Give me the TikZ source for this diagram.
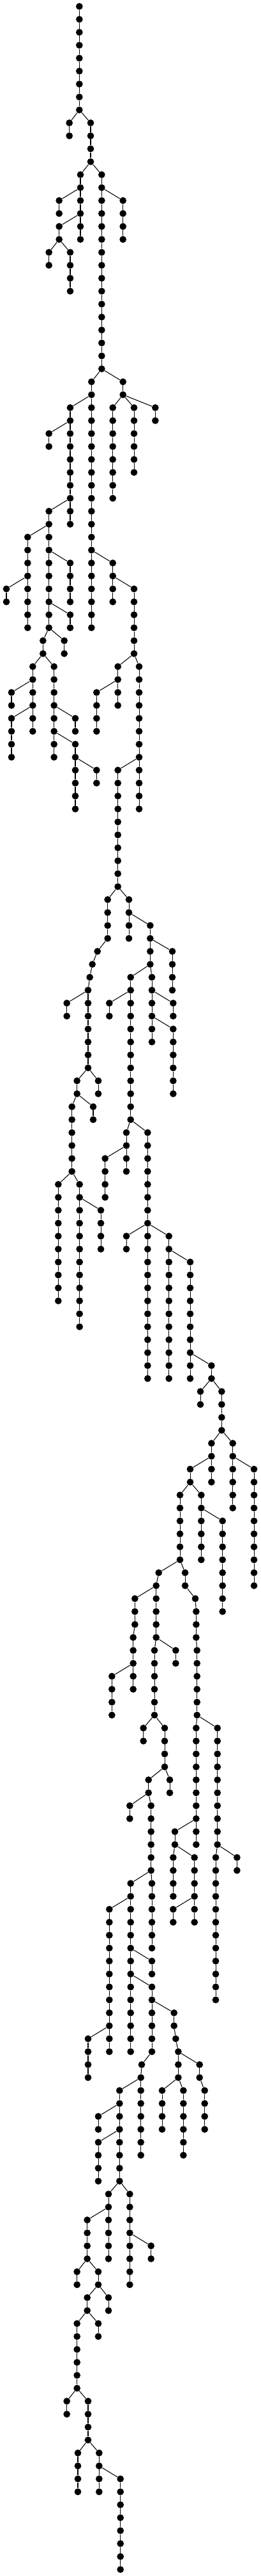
\documentclass[tikz,border=0pt]{standalone}
\usepackage{tikz}
\usetikzlibrary{calc}

\tikzset{
  dot/.style = {circle, fill=black, inner sep=0pt, minimum size=0.215cm},
  edge/.style = {line width=0.6pt, black}
}

% vertical run of dots: parent, first level, column x, number of dots
\newcommand{\dotcol}[4]{%
  \pgfmathtruncatemacro\lastlv{#2+#4-1}%
  \foreach \lv in {#2,...,\lastlv}{%
    \node[dot] (v#3-\lv) at (#3,\lv) {};
    \ifnum\lv=#2\relax
      \draw[edge] (#1) -- (v#3-\lv);
    \else
      \pgfmathtruncatemacro\pl{\lv-1}%
      \draw[edge] (v#3-\pl) -- (v#3-\lv);
    \fi
  }}

\begin{document}
\begin{tikzpicture}[x=0.0066667cm, y=-0.40532cm]
\useasboundingbox (0,-0.4934) rectangle (1224,198.5066);

\node[dot] (v373-0) at (373,0) {};
\dotcol{v373-0}{1}{373}{8}
\dotcol{v373-8}{9}{326}{2}
\dotcol{v373-8}{9}{426}{4}
\dotcol{v426-12}{13}{378}{6}
\dotcol{v378-14}{15}{278}{2}
\dotcol{v378-16}{17}{278}{2}
\dotcol{v278-18}{19}{230}{2}
\dotcol{v278-18}{19}{330}{4}
\dotcol{v426-12}{13}{478}{16}
\dotcol{v478-14}{15}{578}{4}
\dotcol{v478-28}{29}{430}{20}
\dotcol{v430-30}{31}{330}{10}
\dotcol{v330-32}{33}{230}{2}
\dotcol{v330-38}{39}{230}{10}
\dotcol{v230-40}{41}{130}{8}
\dotcol{v130-44}{45}{30}{2}
\dotcol{v230-42}{43}{330}{4}
\dotcol{v230-46}{47}{330}{2}
\dotcol{v230-48}{49}{202}{2}
\dotcol{v230-48}{49}{302}{2}
\dotcol{v202-50}{51}{154}{6}
\dotcol{v154-52}{53}{54}{2}
\dotcol{v154-54}{55}{54}{4}
\dotcol{v202-50}{51}{254}{8}
\dotcol{v254-54}{55}{354}{2}
\dotcol{v254-56}{57}{354}{6}
\dotcol{v354-58}{59}{454}{2}
\dotcol{v478-28}{29}{578}{2}
\dotcol{v578-30}{31}{530}{8}
\dotcol{v578-30}{31}{630}{6}
\dotcol{v578-30}{31}{730}{2}
\dotcol{v430-42}{43}{530}{4}
\dotcol{v530-44}{45}{630}{6}
\dotcol{v630-50}{51}{554}{4}
\dotcol{v554-52}{53}{454}{4}
\dotcol{v630-50}{51}{654}{12}
\dotcol{v654-58}{59}{554}{10}

% middle part
\dotcol{v554-68}{69}{506}{4}
\dotcol{v506-72}{73}{458}{1}
\dotcol{v458-73}{74}{434}{1}
\dotcol{v434-74}{75}{422}{1}
\dotcol{v422-75}{76}{414}{7}
\dotcol{v414-76}{77}{314}{2}
\dotcol{v554-68}{69}{606}{4}
\dotcol{v606-70}{71}{706}{4}
\dotcol{v706-72}{73}{810}{4}
\dotcol{v706-74}{75}{614}{12}
\dotcol{v614-76}{77}{514}{2}
\dotcol{v706-74}{75}{714}{6}
\dotcol{v714-76}{77}{814}{2}
\dotcol{v714-78}{79}{814}{6}
\dotcol{v414-82}{83}{362}{2}
\dotcol{v362-84}{85}{338}{6}
\dotcol{v414-82}{83}{462}{2}
\dotcol{v362-84}{85}{438}{2}
\dotcol{v338-90}{91}{274}{10}
\dotcol{v338-90}{91}{374}{12}
\dotcol{v374-92}{93}{474}{4}
\dotcol{v614-86}{87}{594}{4}
\dotcol{v594-88}{89}{494}{4}
\dotcol{v614-86}{87}{694}{20}
\dotcol{v694-94}{95}{594}{2}
\dotcol{v694-94}{95}{794}{12}
\dotcol{v794-96}{97}{894}{10}
\dotcol{v894-104}{105}{994}{2}
\dotcol{v994-106}{107}{942}{2}
\dotcol{v994-106}{107}{1042}{4}
\dotcol{v1042-110}{111}{994}{4}
\dotcol{v994-112}{113}{894}{2}
\dotcol{v1042-110}{111}{1094}{6}
\dotcol{v1094-112}{113}{1194}{10}
\dotcol{v894-114}{115}{846}{6}
\dotcol{v894-114}{115}{946}{6}
\dotcol{v946-116}{117}{1046}{8}
\dotcol{v846-120}{121}{746}{1}
\dotcol{v746-121}{122}{734}{5}
\dotcol{v734-126}{127}{726}{6}
\dotcol{v734-122}{123}{634}{3}
\dotcol{v634-125}{126}{626}{5}
\dotcol{v626-128}{129}{526}{4}
\dotcol{v734-126}{127}{826}{2}
\dotcol{v846-120}{121}{870}{2}
\dotcol{v870-122}{123}{918}{1}
\dotcol{v918-123}{124}{922}{3}
\dotcol{v922-126}{127}{926}{6}

% lower part
\dotcol{v726-132}{133}{674}{2}
\dotcol{v726-132}{133}{774}{4}
\dotcol{v774-136}{137}{798}{2}
\dotcol{v774-136}{137}{698}{2}
\dotcol{v698-138}{139}{610}{2}
\dotcol{v698-138}{139}{710}{6}
\dotcol{v710-144}{145}{714}{6}
\dotcol{v710-144}{145}{614}{14}
\dotcol{v614-146}{147}{514}{12}
\dotcol{v514-156}{157}{414}{4}
\dotcol{v614-150}{151}{714}{2}
\dotcol{v614-152}{153}{714}{6}
\dotcol{v714-158}{159}{666}{1}
\dotcol{v666-159}{160}{662}{7}
\dotcol{v714-154}{155}{818}{2}
\dotcol{v818-156}{157}{826}{1}
\dotcol{v826-157}{158}{838}{3}
\dotcol{v838-158}{159}{938}{2}
\dotcol{v938-160}{161}{962}{4}
\dotcol{v838-160}{161}{762}{4}
\dotcol{v838-160}{161}{862}{6}
\dotcol{v662-160}{161}{562}{8}
\dotcol{v562-162}{163}{462}{2}
\dotcol{v562-164}{165}{462}{4}
\dotcol{v926-132}{133}{922}{10}
\dotcol{v922-140}{141}{822}{2}
\dotcol{v822-142}{143}{814}{4}
\dotcol{v822-142}{143}{914}{6}
\dotcol{v914-146}{147}{814}{2}
\dotcol{v926-132}{133}{1022}{10}
\dotcol{v1022-142}{143}{1114}{2}
\dotcol{v1022-142}{143}{1014}{12}
\dotcol{v562-168}{169}{510}{6}
\dotcol{v510-170}{171}{410}{4}
\dotcol{v410-174}{175}{362}{2}
\dotcol{v410-174}{175}{462}{2}
\dotcol{v462-176}{177}{410}{2}
\dotcol{v462-176}{177}{510}{2}
\dotcol{v410-178}{179}{362}{6}
\dotcol{v410-178}{179}{462}{2}
\dotcol{v362-184}{185}{314}{2}
\dotcol{v362-184}{185}{414}{4}
\dotcol{v414-188}{189}{366}{4}
\dotcol{v414-188}{189}{466}{2}
\dotcol{v466-190}{191}{466}{2}
\dotcol{v466-190}{191}{566}{8}
\dotcol{v562-168}{169}{610}{8}
\dotcol{v610-172}{173}{710}{2}

\end{tikzpicture}
\end{document}
